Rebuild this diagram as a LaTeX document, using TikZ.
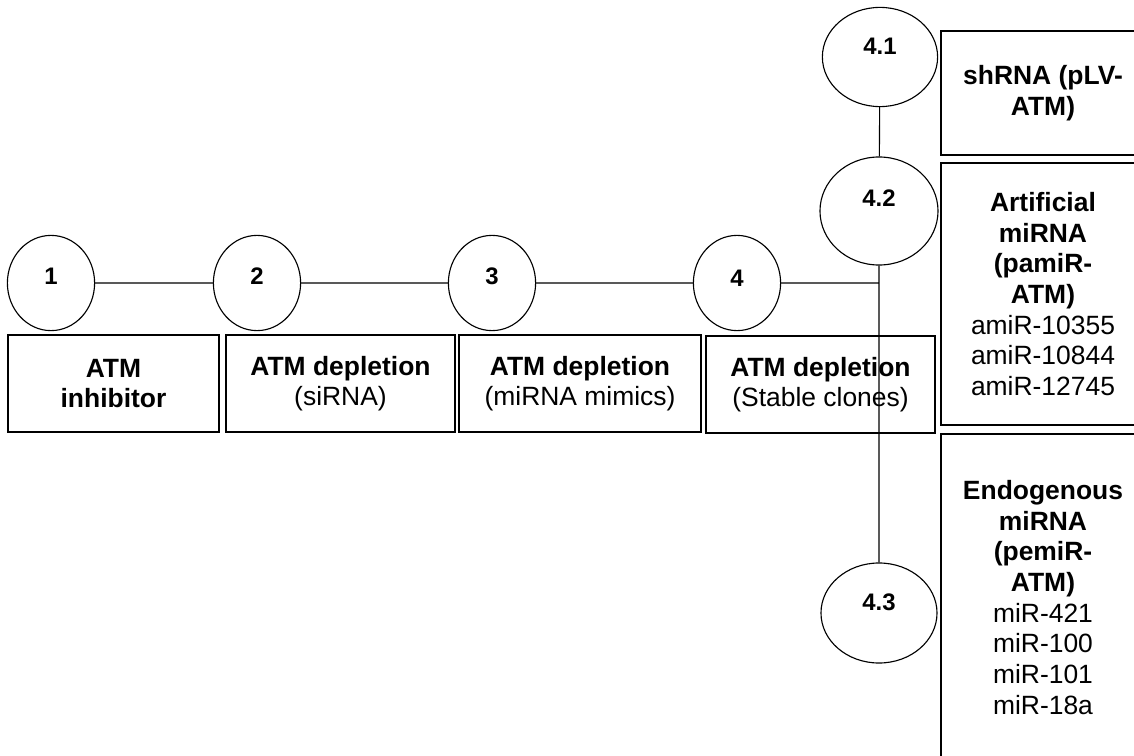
\documentclass[tikz,border=0pt]{standalone}
\usepackage{fontspec}
\setmainfont{Liberation Sans}
\usetikzlibrary{shapes.geometric, calc, positioning}

\tikzset{
	stage/.style={ellipse, draw, line width=0.8pt, minimum width=2.18cm, minimum height=2.38cm,
		font=\fontsize{17}{20}\selectfont\bfseries, text height=12.2pt, text depth=#1},
	stage/.default=10pt,
	infobox/.style={rectangle, draw, line width=1pt, align=center, font=\fontsize{18.8}{21.8}\selectfont},
	link/.style={line width=0.8pt},
}

\begin{document}
\begin{tikzpicture}[x=0.025cm, y=-0.025cm]
		\useasboundingbox (0,0) rectangle (1134,756);
		\clip (0,0) rectangle (1134,756); % right boxes run off the page
		\node[stage]       (s1)  at ( 51,283) {1};
		\node[stage]       (s2)  at (257,283) {2};
		\node[stage]       (s3)  at (492,283) {3};
		\node[stage=7pt]   (s4)  at (737,283) {4};
		\node[stage=15.6pt, minimum width=2.88cm, minimum height=2.48cm] (s41) at (880, 57) {4.1};
		\node[stage=18.5pt, minimum width=2.95cm, minimum height=2.70cm] (s42) at (879,211) {4.2};
		\node[stage=15.6pt, minimum width=2.90cm, minimum height=2.50cm] (s43) at (879,613) {4.3};
		\node[infobox, minimum width=5.28cm, minimum height=2.43cm] (b1) at (113.5,383.5)
			{\textbf{ATM}\\\textbf{inhibitor}};
		\node[infobox, minimum width=5.73cm, minimum height=2.43cm] (b2) at (340.5,383.5)
			{\textbf{ATM depletion}\\(siRNA)};
		\node[infobox, minimum width=6.05cm, minimum height=2.43cm] (b3) at (580,383.5)
			{\textbf{ATM depletion}\\(miRNA mimics)};
		\node[infobox, minimum width=5.73cm, minimum height=2.43cm] (b4) at (820.5,384.5)
			{\textbf{ATM depletion}\\(Stable clones)};
		\node[infobox, minimum width=5.10cm, minimum height=3.10cm] (r1) at (1043,93)
			{\textbf{shRNA (pLV-}\\\textbf{ATM)}};
		\node[infobox, minimum width=5.10cm, minimum height=6.55cm] (r2) at (1043,294)
			{\textbf{Artificial}\\\textbf{miRNA}\\\textbf{(pamiR-}\\\textbf{ATM)}\\amiR-10355\\amiR-10844\\amiR-12745};
		\node[infobox, minimum width=5.10cm, minimum height=8.18cm] (r3) at (1043,597.5)
			{\textbf{Endogenous}\\\textbf{miRNA}\\\textbf{(pemiR-}\\\textbf{ATM)}\\miR-421\\miR-100\\miR-101\\miR-18a};
		\coordinate (tee) at (s4 -| s42);
		\draw[link] (s1) -- (s2) -- (s3) -- (s4) -- (tee)
		            (s41) -- (s42) -- (s43);
	\end{tikzpicture}
\end{document}
